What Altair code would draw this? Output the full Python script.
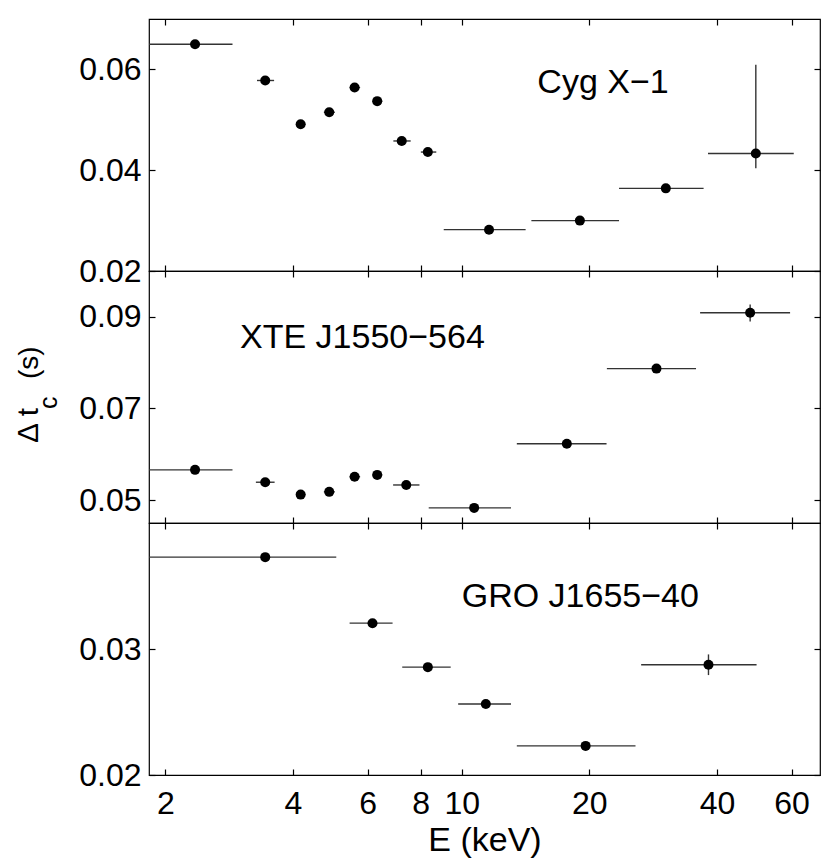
import altair as alt
import pandas as pd

FONT = "Liberation Sans"

# Shared x axis (keV, log)
X_DOMAIN = [1.83, 70]
X_TICKS = [2, 4, 6, 8, 10, 20, 40, 60]

# Cyg X-1
cyg_E = [2.35, 3.44, 4.17, 4.87, 5.59, 6.32, 7.22, 8.32, 11.6, 19.0, 30.3, 49.4]
cyg_Elo = [1.7, 3.29, 4.07, 4.73, 5.44, 6.16, 6.90, 8.01, 9.07, 14.6, 23.5, 38.1]
cyg_Ehi = [2.88, 3.61, 4.28, 5.02, 5.76, 6.50, 7.58, 8.71, 14.15, 23.5, 37.2, 60.7]
cyg_dt = [0.0650, 0.0578, 0.0491, 0.0515, 0.0564, 0.0537, 0.0458, 0.0436, 0.0282, 0.0300, 0.0364, 0.0433]
cyg_lo = [0.0647, 0.0575, 0.0488, 0.0512, 0.0561, 0.0534, 0.0455, 0.0433, 0.0279, 0.0297, 0.0361, 0.0404]
cyg_hi = [0.0653, 0.0581, 0.0494, 0.0518, 0.0567, 0.0540, 0.0461, 0.0439, 0.0285, 0.0303, 0.0367, 0.0609]

# XTE J1550-564
xte_E = [2.35, 3.44, 4.17, 4.87, 5.59, 6.32, 7.40, 10.7, 17.7, 28.8, 47.9]
xte_Elo = [1.7, 3.27, 4.07, 4.73, 5.44, 6.16, 6.89, 8.36, 13.49, 22.0, 36.5]
xte_Ehi = [2.88, 3.62, 4.28, 5.02, 5.76, 6.50, 7.95, 13.07, 21.96, 35.7, 59.5]
xte_dt = [0.0566, 0.0539, 0.0512, 0.0518, 0.0551, 0.0555, 0.0533, 0.0483, 0.0623, 0.0787, 0.0909]
xte_lo = [0.0563, 0.0536, 0.0509, 0.0515, 0.0548, 0.0552, 0.0530, 0.0480, 0.0620, 0.0784, 0.0890]
xte_hi = [0.0569, 0.0542, 0.0515, 0.0521, 0.0554, 0.0558, 0.0536, 0.0486, 0.0626, 0.0790, 0.0927]

# GRO J1655-40
gro_E = [3.44, 6.16, 8.32, 11.4, 19.6, 38.2]
gro_Elo = [1.7, 5.44, 7.24, 9.81, 13.49, 26.5]
gro_Ehi = [5.06, 6.87, 9.42, 13.07, 25.7, 49.6]
gro_dt = [0.03729, 0.03205, 0.02856, 0.02564, 0.02231, 0.02875]
gro_lo = [0.03715, 0.03190, 0.02840, 0.02550, 0.02218, 0.02793]
gro_hi = [0.03743, 0.03220, 0.02870, 0.02578, 0.02244, 0.02957]

TICK = 6


def panel(E, Elo, Ehi, dt, lo, hi, ydom, yvals, label, lx, ly, bottom, show_title):
    df = pd.DataFrame({"E": E, "Elo": Elo, "Ehi": Ehi, "dt": dt, "lo": lo, "hi": hi})
    xs = alt.Scale(type="log", domain=X_DOMAIN, nice=False)
    ys = alt.Scale(domain=ydom, nice=False, zero=False)
    xb_kwargs = dict(orient="bottom", values=X_TICKS, format="d", offset=-TICK,
                     tickSize=TICK, domain=False, grid=False, labelPadding=13,
                     titlePadding=4, labelFlush=False)
    if bottom:
        xb_kwargs["title"] = "E (keV)"
    else:
        xb_kwargs["labels"] = False
        xb_kwargs["title"] = None
    xaxis_b = alt.Axis(**xb_kwargs)
    yaxis_l = alt.Axis(orient="left", values=yvals, format=".2f", offset=-TICK,
                       tickSize=TICK, domain=False, grid=False, labelPadding=8,
                       title=None, labelFlush=False)
    xaxis_t = alt.Axis(orient="top", values=X_TICKS, offset=-TICK, tickSize=TICK,
                       domain=False, grid=False, labels=False, title=None)
    yaxis_r = alt.Axis(orient="right", values=yvals, offset=-TICK, tickSize=TICK,
                       domain=False, grid=False, labels=False, title=None)

    base = alt.Chart(df)
    axes1 = base.mark_point(opacity=0).encode(
        x=alt.X("E:Q", scale=xs, axis=xaxis_b),
        y=alt.Y("dt:Q", scale=ys, axis=yaxis_l),
    )
    axes2 = base.mark_point(opacity=0).encode(
        x=alt.X("E:Q", scale=xs, axis=xaxis_t),
        y=alt.Y("dt:Q", scale=ys, axis=yaxis_r),
    )
    xerr = base.mark_rule(color="#333333", strokeWidth=1.4, clip=True).encode(
        x=alt.X("Elo:Q", scale=xs, axis=None),
        x2="Ehi:Q",
        y=alt.Y("dt:Q", scale=ys, axis=None),
    )
    yerr = base.mark_rule(color="#333333", strokeWidth=1.4, clip=True).encode(
        x=alt.X("E:Q", scale=xs, axis=None),
        y=alt.Y("lo:Q", scale=ys, axis=None),
        y2="hi:Q",
    )
    pts = base.mark_circle(size=100, color="black", opacity=1).encode(
        x=alt.X("E:Q", scale=xs, axis=None),
        y=alt.Y("dt:Q", scale=ys, axis=None),
    )
    txt = alt.Chart(pd.DataFrame({"x": [lx], "y": [ly], "t": [label]})).mark_text(
        align="left", baseline="alphabetic", fontSize=34, font=FONT, color="black"
    ).encode(
        x=alt.X("x:Q", scale=xs, axis=None),
        y=alt.Y("y:Q", scale=ys, axis=None),
        text="t:N",
    )
    layers = [axes1, axes2, xerr, yerr, pts, txt]
    if show_title:
        t1 = alt.Chart(pd.DataFrame({"t": ["\u0394 t"]})).mark_text(
            align="right", baseline="alphabetic", angle=270, fontSize=30, font=FONT,
            color="black"
        ).encode(text="t:N", x=alt.value(-111), y=alt.value(137))
        t2 = alt.Chart(pd.DataFrame({"t": ["c"]})).mark_text(
            align="left", baseline="alphabetic", angle=270, fontSize=25, font=FONT,
            color="black"
        ).encode(text="t:N", x=alt.value(-92), y=alt.value(138))
        t3 = alt.Chart(pd.DataFrame({"t": ["(s)"]})).mark_text(
            align="left", baseline="alphabetic", angle=270, fontSize=28, font=FONT,
            color="black"
        ).encode(text="t:N", x=alt.value(-111), y=alt.value(108))
        layers += [t1, t2, t3]

    return alt.layer(*layers).resolve_axis(
        x="independent", y="independent"
    ).properties(width=671, height=252)


p1 = panel(cyg_E, cyg_Elo, cyg_Ehi, cyg_dt, cyg_lo, cyg_hi, [0.02, 0.07],
           [0.02, 0.04, 0.06], "Cyg X\u22121", 15.08, 0.0554, False, False)
p2 = panel(xte_E, xte_Elo, xte_Ehi, xte_dt, xte_lo, xte_hi, [0.045, 0.1],
           [0.05, 0.07, 0.09], "XTE J1550\u2212564", 3.0, 0.0833, False, True)
p3 = panel(gro_E, gro_Elo, gro_Ehi, gro_dt, gro_lo, gro_hi, [0.02, 0.04],
           [0.02, 0.03], "GRO J1655\u221240", 10.0, 0.0333, True, False)

chart = alt.vconcat(p1, p2, p3, spacing=0, bounds="flush").properties(
    padding={"left": 5, "top": 9, "right": 0, "bottom": 0}
).configure_view(
    stroke="black", strokeWidth=1.2
).configure_axis(
    labelFont=FONT, labelFontSize=32, labelColor="black",
    tickColor="black", tickWidth=1.2,
    titleFont=FONT, titleFontSize=34, titleColor="black", titleFontWeight="normal",
).configure_concat(spacing=0)

chart.save("out.html", embed_options={"renderer": "svg", "actions": False})
